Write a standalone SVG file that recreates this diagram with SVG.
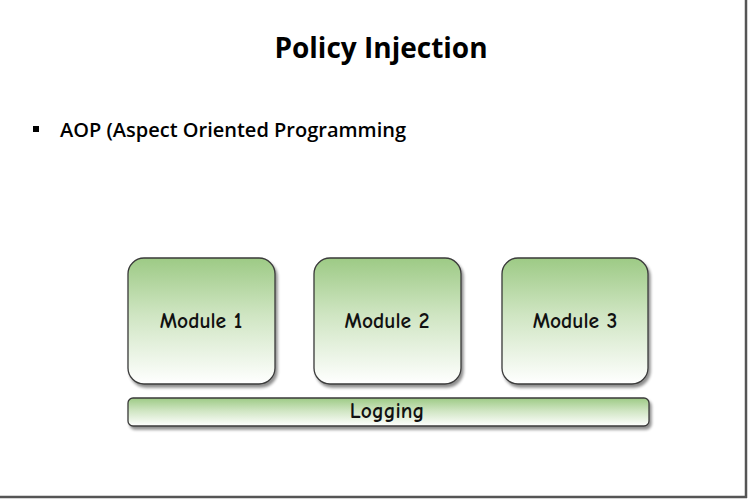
<svg xmlns="http://www.w3.org/2000/svg" width="750" height="501" viewBox="0 0 750 501">
<defs>
<linearGradient id="g" x1="0" y1="0" x2="0" y2="1">
<stop offset="0" stop-color="#9dca85"/>
<stop offset="0.45" stop-color="#cfe5c2"/>
<stop offset="1" stop-color="#ffffff"/>
</linearGradient>
<filter id="sh" x="-10%" y="-10%" width="130%" height="140%">
<feGaussianBlur in="SourceAlpha" stdDeviation="1.5"/>
<feOffset dx="2" dy="3" result="b"/>
<feComponentTransfer><feFuncA type="linear" slope="0.45"/></feComponentTransfer>
<feMerge><feMergeNode/><feMergeNode in="SourceGraphic"/></feMerge>
</filter>
</defs>
<style>
.box{fill:url(#g);stroke:#3a3a3a;stroke-width:1.3;filter:url(#sh)}
.lbl{font-family:"Comic Neue","DejaVu Sans","Liberation Sans",sans-serif;font-size:21.5px;font-weight:bold;fill:#111;text-anchor:middle}
.t{font-family:"Open Sans","Liberation Sans",sans-serif;fill:#000}
</style>
<rect width="750" height="501" fill="#fff"/>
<line x1="746" y1="0" x2="746" y2="498" stroke="#555" stroke-width="2.5"/>
<line x1="0" y1="497" x2="747" y2="497" stroke="#555" stroke-width="2.5"/>
<text class="t" x="381" y="58" font-size="28" font-weight="bold" text-anchor="middle">Policy Injection</text>
<rect x="33" y="126" width="6" height="6" fill="#000"/>
<text class="t" x="60" y="137" font-size="20" font-weight="600">AOP (Aspect Oriented Programming</text>
<g id="module1"><rect class="box" x="128" y="258" width="147" height="126" rx="16"/><text class="lbl" x="201" y="328">Module 1</text></g>
<g id="module2"><rect class="box" x="314" y="258" width="147" height="126" rx="16"/><text class="lbl" x="387" y="328">Module 2</text></g>
<g id="module3"><rect class="box" x="502" y="258" width="146" height="126" rx="16"/><text class="lbl" x="575" y="328">Module 3</text></g>
<g id="logging"><rect class="box" x="128" y="398" width="521" height="28" rx="5"/><text class="lbl" x="387" y="418">Logging</text></g>
<g id="connectors"></g>
</svg>
